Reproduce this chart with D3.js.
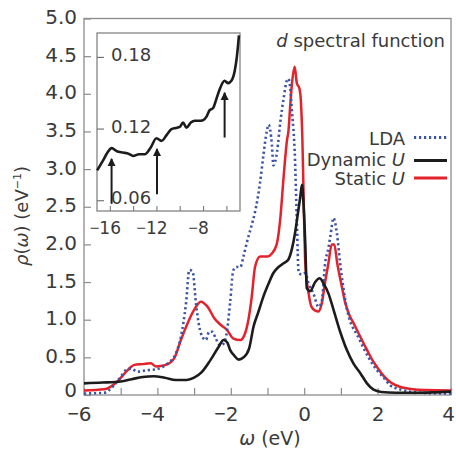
<!DOCTYPE html>
<html><head><meta charset="utf-8">
<script src="https://cdn.jsdelivr.net/npm/d3@7"></script>
<style>body{margin:0;background:#fff}svg{display:block}</style>
</head><body>
<script>
// ---- data ----
const omegaLDA = [-6,-5.45,-5.18,-5.0,-4.86,-4.72,-4.54,-4.27,-4.04,-3.72,-3.5,-3.36,-3.22,-3.13,-3.04,-2.95,-2.86,-2.77,-2.68,-2.59,-2.5,-2.41,-2.29,-2.2,-2.1,-2.02,-1.93,-1.84,-1.74,-1.65,-1.56,-1.43,-1.34,-1.2,-1.11,-1.02,-0.97,-0.88,-0.84,-0.74,-0.65,-0.56,-0.47,-0.43,-0.38,-0.34,-0.25,-0.2,-0.15,-0.06,0.03,0.12,0.25,0.39,0.48,0.57,0.66,0.71,0.8,0.89,0.98,1.12,1.25,1.3,1.44,1.6,1.75,1.98,2.15,2.34,2.6,3.16,4];
const rhoLDA   = [0.02,0.03,0.13,0.24,0.33,0.35,0.31,0.33,0.34,0.42,0.55,0.77,1.22,1.66,1.64,1.22,0.91,0.77,0.73,0.84,0.84,0.75,0.66,0.68,0.86,1.22,1.66,1.70,1.70,1.85,2.03,2.26,2.43,2.83,3.19,3.5,3.59,3.32,3.05,3.23,3.63,3.94,4.18,4.20,4.07,3.81,3.12,2.3,1.62,1.6,1.62,1.48,1.35,1.17,1.25,1.75,1.95,2.1,2.35,2.15,1.75,1.26,0.98,0.92,0.8,0.64,0.5,0.33,0.24,0.13,0.076,0.03,0.02];

const omegaDyn = [-6,-5.5,-5.0,-4.7,-4.4,-4.1,-3.8,-3.5,-3.2,-3.0,-2.8,-2.56,-2.33,-2.2,-2.1,-2.02,-1.9,-1.79,-1.65,-1.5,-1.38,-1.25,-1.11,-0.97,-0.84,-0.7,-0.56,-0.43,-0.33,-0.25,-0.17,-0.11,-0.06,-0.02,0.03,0.07,0.16,0.3,0.42,0.53,0.66,0.8,0.98,1.16,1.34,1.53,1.71,1.89,2.1,2.5,3,3.5,4];
const rhoDyn   = [0.155,0.165,0.18,0.21,0.24,0.25,0.23,0.2,0.2,0.23,0.3,0.46,0.64,0.73,0.7,0.6,0.52,0.47,0.5,0.62,0.91,1.1,1.31,1.48,1.62,1.7,1.75,1.8,1.95,2.15,2.42,2.62,2.79,2.55,2.0,1.42,1.38,1.5,1.55,1.48,1.35,1.13,0.84,0.6,0.42,0.29,0.155,0.07,0.04,0.03,0.03,0.035,0.045];

const omegaStatic = [-6,-5.45,-5.09,-4.81,-4.63,-4.4,-4.18,-4.04,-3.77,-3.54,-3.36,-3.18,-3.0,-2.82,-2.63,-2.45,-2.27,-2.1,-1.93,-1.74,-1.61,-1.52,-1.43,-1.34,-1.2,-1.0,-0.88,-0.75,-0.65,-0.56,-0.47,-0.43,-0.38,-0.34,-0.26,-0.2,-0.13,-0.09,-0.05,-0.02,0.03,0.12,0.2,0.3,0.39,0.48,0.57,0.66,0.75,0.82,0.9,1.0,1.12,1.25,1.35,1.5,1.71,1.85,2.0,2.15,2.35,2.6,2.9,3.3,4];
const rhoStatic   = [0.06,0.075,0.18,0.33,0.40,0.41,0.42,0.38,0.40,0.49,0.73,0.95,1.13,1.24,1.17,1.02,0.93,0.86,0.75,0.73,0.82,1.0,1.3,1.7,1.84,1.84,1.88,2.0,2.35,2.9,3.38,3.5,3.85,4.1,4.36,4.14,4.07,3.9,3.4,2.74,1.75,1.35,1.17,1.12,1.11,1.22,1.5,1.75,2.0,2.0,1.75,1.5,1.22,1.04,0.95,0.8,0.6,0.47,0.36,0.26,0.17,0.11,0.08,0.065,0.06];

const insetOmega = [-17.09,-16.6,-16.2,-15.85,-15.4,-14.86,-14.4,-14.0,-13.5,-13.0,-12.5,-12.0,-11.57,-11.1,-10.71,-10.35,-10.0,-9.72,-9.42,-9.05,-8.71,-8.35,-8.0,-7.7,-7.43,-7.15,-6.85,-6.57,-6.15,-5.85,-5.57,-5.29,-5.1,-4.92];
const insetRho   = [0.085,0.093,0.1,0.1036,0.101,0.0999,0.099,0.0971,0.0985,0.0985,0.104,0.1119,0.1097,0.115,0.1195,0.1205,0.1214,0.125,0.1208,0.125,0.1265,0.1265,0.127,0.13,0.1354,0.137,0.145,0.153,0.160,0.158,0.160,0.168,0.18,0.198];

const arrowOmega = [-15.85,-11.95,-6.15];
const arrowFrom  = [0.057,0.065,0.1125];
const arrowTo    = [0.0946,0.103,0.150];

const xTicks = [-6,-5,-4,-3,-2,-1,0,1,2,3,4];
const xTickLabels = ["−6","","−4","","−2","","0","","2","","4"];
const yTicks = [0,0.5,1,1.5,2,2.5,3,3.5,4,4.5,5];
const yTickLabels = ["0","0.5","1.0","1.5","2.0","2.5","3.0","3.5","4.0","4.5","5.0"];
const insetXTicks = [-16,-14,-12,-10,-8,-6];
const insetXLabels = ["−16","","−12","","−8",""];
const insetYTicks = [0.06,0.12,0.18];
const insetYLabels = ["0.06","0.12","0.18"];
const seriesNames = ["LDA","Dynamic U","Static U"];

// ---- drawing ----
const W = 456, H = 452;
const FONT = "'DejaVu Sans', sans-serif";
const TXT = "#3a3a3a";
const svg = d3.select("body").append("svg").attr("width", W).attr("height", H)
  .style("font-family", FONT);

const x = d3.scaleLinear().domain([-6, 4]).range([84, 451]);
const y = d3.scaleLinear().domain([0, 5]).range([395, 18.5]);

function styleLabels(sel, labels, ticks, negDx) {
  sel.selectAll("text").each(function(d) {
    const t = d3.select(this);
    const s = labels[ticks.indexOf(d)];
    t.text(null).attr("fill", TXT);
    if (s.startsWith("−")) {
      t.attr("dx", negDx);
      t.append("tspan").style("font-family", "'Open Sans', sans-serif").text("−");
      t.append("tspan").text(s.slice(1));
    } else t.text(s);
  });
}

// main frame
svg.append("rect").attr("x", 84).attr("y", 18.5).attr("width", 367).attr("height", 376.5)
  .attr("fill", "none").attr("stroke", "#8c8c8c").attr("stroke-width", 1.3);

const gx = svg.append("g").attr("transform", "translate(0,395)")
  .call(d3.axisBottom(x).tickValues(xTicks).tickSize(-7).tickPadding(12));
gx.select(".domain").remove();
gx.attr("font-size", 20).attr("font-family", FONT);
gx.selectAll(".tick line").attr("stroke", "#8c8c8c").attr("stroke-width", 1.2);
styleLabels(gx, xTickLabels, xTicks, -5);
gx.selectAll(".tick").filter(d => d === 4).select("text").attr("dx", -3);

const gy = svg.append("g").attr("transform", "translate(84,0)")
  .call(d3.axisLeft(y).tickValues(yTicks).tickSize(-7).tickPadding(7));
gy.select(".domain").remove();
gy.attr("font-size", 20).attr("font-family", FONT);
gy.selectAll(".tick line").attr("stroke", "#8c8c8c").attr("stroke-width", 1.2);
styleLabels(gy, yTickLabels, yTicks, 0);
gy.selectAll("text").attr("dy", "0.25em");
gy.selectAll(".tick").filter(d => d === 0).select("text").attr("dy", "0.08em");

// curves
const line = d3.line().x(d => x(d[0])).y(d => y(d[1])).curve(d3.curveMonotoneX);
const zip = (a, b) => a.map((v, i) => [v, b[i]]);
svg.append("path").datum(zip(omegaStatic, rhoStatic)).attr("d", line)
  .attr("fill", "none").attr("stroke", "#e3222c").attr("stroke-width", 2.5).attr("stroke-linejoin", "round");
svg.append("path").datum(zip(omegaLDA, rhoLDA)).attr("d", line)
  .attr("fill", "none").attr("stroke", "#3b54a6").attr("stroke-width", 2.6)
  .attr("stroke-dasharray", "2.2 2.8");
svg.append("path").datum(zip(omegaDyn, rhoDyn)).attr("d", line)
  .attr("fill", "none").attr("stroke", "#1c1c1c").attr("stroke-width", 2.6).attr("stroke-linejoin", "round");

// axis titles
svg.append("text").attr("x", 270).attr("y", 445).attr("text-anchor", "middle")
  .attr("font-size", 19).attr("fill", TXT)
  .call(t => { t.append("tspan").attr("font-style", "italic").text("ω"); t.append("tspan").text(" (eV)"); });

const yt = svg.append("text").attr("transform", "translate(28,216) rotate(-90)")
  .attr("text-anchor", "middle").attr("font-size", 18).attr("fill", TXT);
yt.append("tspan").attr("font-style", "italic").text("ρ");
yt.append("tspan").text("(");
yt.append("tspan").attr("font-style", "italic").text("ω");
yt.append("tspan").text(") (eV");
yt.append("tspan").attr("font-size", 11).attr("dy", -7).text("−1");
yt.append("tspan").attr("dy", 7).text(")");

// title
const tt = svg.append("text").attr("x", 445).attr("y", 47).attr("text-anchor", "end")
  .attr("font-size", 18).attr("fill", TXT);
tt.append("tspan").attr("font-style", "italic").text("d");
tt.append("tspan").text(" spectral function");

// legend
const legY = [145, 165.5, 185];
const legLineY = [137.5, 160.5, 178];
const legStyles = [
  {stroke: "#3b54a6", dash: "2.2 2.8"},
  {stroke: "#1c1c1c", dash: null},
  {stroke: "#e3222c", dash: null}
];
seriesNames.forEach((name, i) => {
  const t = svg.append("text").attr("x", 405).attr("y", legY[i]).attr("text-anchor", "end")
    .attr("font-size", 18).attr("fill", TXT);
  if (name.endsWith(" U")) {
    t.append("tspan").text(name.slice(0, -1));
    t.append("tspan").attr("font-style", "italic").text("U");
  } else t.text(name);
  svg.append("line").attr("x1", 414).attr("x2", 447).attr("y1", legLineY[i]).attr("y2", legLineY[i])
    .attr("stroke", legStyles[i].stroke).attr("stroke-width", 2.8)
    .attr("stroke-dasharray", legStyles[i].dash);
});

// ---- inset ----
const xi = d3.scaleLinear().domain([-17.1, -4.83]).range([97, 240]);
const yi = d3.scaleLinear().domain([0.051, 0.2]).range([211, 33]);
svg.append("rect").attr("x", 97).attr("y", 33).attr("width", 143).attr("height", 178)
  .attr("fill", "#fff").attr("stroke", "#7a7a7a").attr("stroke-width", 1.2);

const gix = svg.append("g").attr("transform", "translate(0,211)")
  .call(d3.axisBottom(xi).tickValues(insetXTicks).tickSize(-5).tickPadding(11));
gix.select(".domain").remove();
gix.attr("font-size", 17).attr("font-family", FONT);
gix.selectAll(".tick line").attr("stroke", "#7a7a7a").attr("stroke-width", 1.1);
styleLabels(gix, insetXLabels, insetXTicks, -5);

const giy = svg.append("g").attr("transform", "translate(97,0)")
  .call(d3.axisRight(yi).tickValues(insetYTicks).tickSize(7).tickPadding(7));
giy.select(".domain").remove();
giy.attr("font-size", 18).attr("font-family", FONT);
giy.selectAll(".tick line").attr("stroke", "#6a6a6a").attr("stroke-width", 1.1);
styleLabels(giy, insetYLabels, insetYTicks, 0);
giy.selectAll("text").attr("dy", "0.2em");

const lineI = d3.line().x(d => xi(d[0])).y(d => yi(d[1])).curve(d3.curveMonotoneX);
svg.append("path").datum(zip(insetOmega, insetRho)).attr("d", lineI)
  .attr("fill", "none").attr("stroke", "#1c1c1c").attr("stroke-width", 2.6).attr("stroke-linejoin", "round");

// arrows
svg.append("defs").append("marker").attr("id", "ah").attr("viewBox", "0 0 10 10")
  .attr("refX", 9).attr("refY", 5).attr("markerWidth", 4.2).attr("markerHeight", 4.2)
  .attr("markerUnits", "strokeWidth").attr("orient", "auto")
  .append("path").attr("d", "M0,0 L10,5 L0,10 Z").attr("fill", "#1c1c1c");
arrowOmega.forEach((w, i) => {
  svg.append("line").attr("x1", xi(w)).attr("x2", xi(w))
    .attr("y1", yi(arrowFrom[i])).attr("y2", yi(arrowTo[i]))
    .attr("stroke", "#1c1c1c").attr("stroke-width", 2).attr("marker-end", "url(#ah)");
});
</script>
</body></html>
